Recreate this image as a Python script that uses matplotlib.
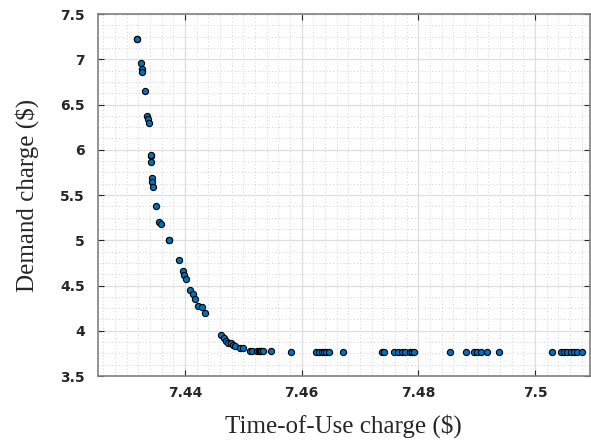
import matplotlib
matplotlib.use("Agg")
from matplotlib import pyplot as plt
from matplotlib.ticker import MultipleLocator

# Time-of-Use charge ($) vs Demand charge ($)
tou_steep = [7.4318, 7.4318, 7.4324, 7.4326, 7.4327, 7.4331, 7.4335, 7.4337, 7.4338,
             7.4341, 7.4342, 7.4342, 7.4344, 7.4344, 7.4345, 7.4350, 7.4356, 7.4359,
             7.4373, 7.4373, 7.4389, 7.4396, 7.4398, 7.4401, 7.4409, 7.4413, 7.4417,
             7.4422, 7.4429, 7.4435]
demand_steep = [7.224, 7.222, 6.962, 6.889, 6.862, 6.649, 6.373, 6.340, 6.299,
                5.934, 5.860, 5.940, 5.684, 5.647, 5.585, 5.374, 5.205, 5.176,
                5.003, 5.000, 4.778, 4.663, 4.616, 4.572, 4.450, 4.406, 4.351,
                4.273, 4.259, 4.193]

tou_knee = [7.4462, 7.4467, 7.4470, 7.4474, 7.4478, 7.4483, 7.4485, 7.4494, 7.4500,
            7.4512, 7.4514, 7.4523, 7.4526, 7.4528, 7.4531, 7.4533, 7.4548, 7.4582]
demand_knee = [3.953, 3.916, 3.887, 3.868, 3.861, 3.843, 3.830, 3.806, 3.806,
               3.780, 3.778, 3.778, 3.778, 3.776, 3.776, 3.776, 3.776, 3.765]

tou_flat = [7.4625, 7.4630, 7.4634, 7.4638, 7.4642, 7.4646, 7.4671,
            7.4738, 7.4742, 7.4759, 7.4765, 7.4772, 7.4778, 7.4785, 7.4790, 7.4793,
            7.4854, 7.4881, 7.4896, 7.4901, 7.4907, 7.4917, 7.4938,
            7.5029, 7.5044, 7.5050, 7.5055, 7.5061, 7.5067, 7.5072, 7.5081]
demand_flat = [3.762] * len(tou_flat)

x = tou_steep + tou_knee + tou_flat
y = demand_steep + demand_knee + demand_flat

ax_color = (0.15, 0.15, 0.15)

fig = plt.figure(figsize=(5.91, 4.45), dpi=100)
ax = fig.add_axes([0.165, 0.155, 0.833, 0.8135])

ax.scatter(x, y, s=20, c=[(0, 0.447, 0.741)], edgecolors="black",
           linewidths=0.8, zorder=3)

ax.set_xlim(7.425, 7.5094)
ax.set_ylim(3.5, 7.5)
ax.set_xticks([7.44, 7.46, 7.48, 7.5])
ax.set_xticklabels(["7.44", "7.46", "7.48", "7.5"])
ax.set_yticks([3.5, 4, 4.5, 5, 5.5, 6, 6.5, 7, 7.5])
ax.set_yticklabels(["3.5", "4", "4.5", "5", "5.5", "6", "6.5", "7", "7.5"])
ax.xaxis.set_minor_locator(MultipleLocator(0.002))
ax.yaxis.set_minor_locator(MultipleLocator(0.125))

ax.grid(True, which="major", color=(0.87, 0.87, 0.87), linewidth=0.9, zorder=0)
ax.grid(True, which="minor", color=(0.82, 0.82, 0.82), linestyle=(0, (1, 2.5)),
        linewidth=0.7, zorder=0)
ax.set_axisbelow(True)

ax.tick_params(which="major", direction="in", length=4, width=0.8, color=ax_color,
               top=True, right=True, labelsize=10, labelcolor=ax_color)
ax.tick_params(axis="x", which="major", pad=7)
ax.tick_params(axis="y", which="major", pad=9)
ax.tick_params(which="minor", length=0, top=True, right=True)
for lab in ax.get_xticklabels() + ax.get_yticklabels():
    lab.set_fontfamily("DejaVu Sans")
    lab.set_fontweight("bold")
for sp in ax.spines.values():
    sp.set_color((0.5, 0.5, 0.5))
    sp.set_linewidth(1.2)

ax.set_xlabel("Time-of-Use charge ($)", fontfamily="Liberation Serif", fontsize=18,
              color=ax_color, labelpad=10)
ax.set_ylabel("Demand charge ($)", fontfamily="Liberation Serif", fontsize=18,
              color=ax_color, labelpad=15)

fig.savefig("out.png", dpi=100)
